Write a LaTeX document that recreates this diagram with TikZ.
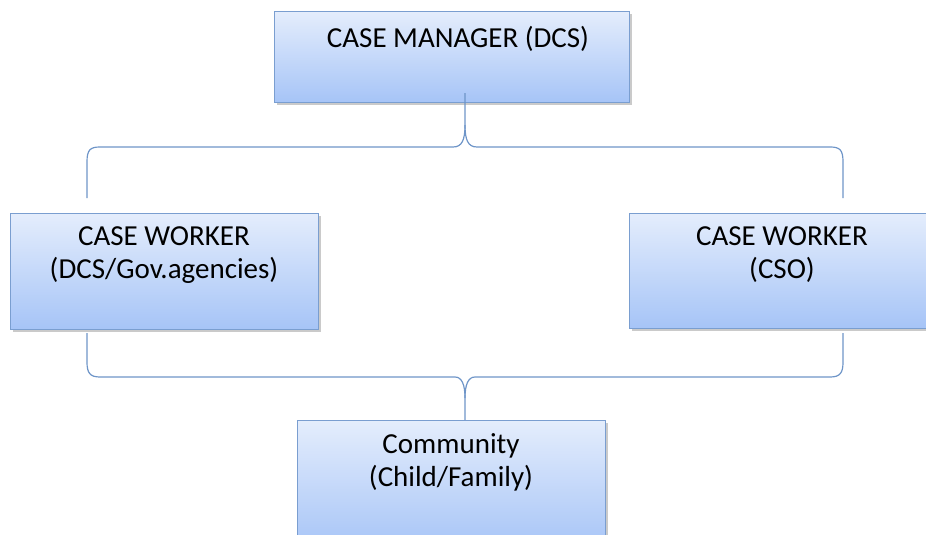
\documentclass[tikz,border=0pt]{standalone}
\usepackage{fontspec}
\setmainfont{Carlito}
\usetikzlibrary{shadows,calc}
\definecolor{boxtop}{HTML}{E4EDFC}
\definecolor{boxbot}{HTML}{A6C4F7}
\definecolor{boxline}{HTML}{7A9ED0}
\definecolor{conn}{HTML}{6E95C8}
\tikzset{
  box/.style={draw=boxline, line width=1.1pt, top color=boxtop, bottom color=boxbot,
    inner sep=0pt, anchor=north west,
    drop shadow={opacity=0.35, shadow xshift=2pt, shadow yshift=-2pt, fill=black!60}},
  txt/.style={font=\fontsize{29}{33.5}\selectfont, align=center, inner sep=0pt, anchor=north, text=black},
  bracket/.style={draw=conn, line width=1.2pt}
}
\begin{document}
\begin{tikzpicture}[x=1pt,y=-1pt]
\useasboundingbox (0,0) rectangle (926,535);
\clip (0,0) rectangle (926,535);
% boxes
\node[box, minimum width=355pt, minimum height=91pt] (mgr) at (274,11) {};
\node[box, minimum width=308pt, minimum height=116pt] (cwl) at (10,213) {};
\node[box, minimum width=310pt, minimum height=115pt] (cwr) at (629,213) {};
\node[box, minimum width=308pt, minimum height=130pt] (com) at (297,420) {};
% texts
\node[txt] (tmgr) at (458,26) {CASE MANAGER (DCS)};
\node[txt] (tcwl) at (164,226) {CASE WORKER\\(DCS/Gov.agencies)};
\node[txt] (tcwr) at (782,226) {CASE WORKER\\(CSO)};
\node[txt] (tcom) at (451,433) {Community\\(Child/Family)};
% anchor coordinates
\coordinate (uL) at (87,198);
\coordinate (uR) at (843,198);
\coordinate (uT) at (465,93);
\coordinate (lL) at (87,333);
\coordinate (lR) at (843,333);
\coordinate (lB) at (465,420);
% upper bracket
\draw[bracket] (uL) -- (87,162) .. controls (87,150) and (90,147) .. (100,147)
  -- (453,147) .. controls (462,147) and (465,140) .. (465,125) -- (uT);
\draw[bracket] (uR) -- (843,162) .. controls (843,150) and (840,147) .. (830,147)
  -- (477,147) .. controls (468,147) and (465,140) .. (465,125);
% lower bracket
\draw[bracket] (lL) -- (87,362) .. controls (87,373) and (90,377) .. (100,377)
  -- (455,377) .. controls (462,377) and (465,385) .. (465,398) -- (lB);
\draw[bracket] (lR) -- (843,362) .. controls (843,373) and (840,377) .. (830,377)
  -- (475,377) .. controls (468,377) and (465,385) .. (465,398);
\end{tikzpicture}
\end{document}
